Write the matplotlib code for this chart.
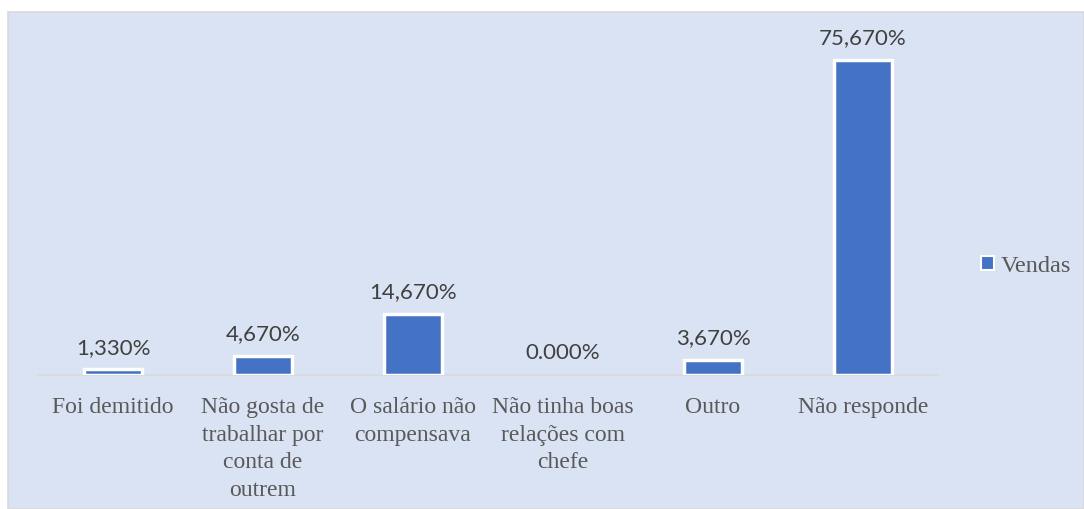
import matplotlib.pyplot as plt
import matplotlib.patches as patches
import numpy as np

# Data
categories = ["Foi demitido", "Não gosta de\ntrabalhar por\nconta de\noutrem",
              "O salário não\ncompensava", "Não tinha boas\nrelações com\nchefe",
              "Outro", "Não responde"]
values = [1.33, 4.67, 14.67, 0.0, 3.67, 75.67]
value_labels = ["1,330%", "4,670%", "14,670%", "0.000%", "3,670%", "75,670%"]
series_name = "Vendas"

# Styles
COLORS = {
    'bar': '#4472C4',
    'panel': '#DAE3F3',
    'border': '#D9D9D9',
    'label': '#404040',
    'cat': '#595959',
}

fig = plt.figure(figsize=(10.84, 5.10), dpi=100)

# chart area background
panel = patches.Rectangle((8 / 1084, 0), 1 - 8 / 1084, 497 / 510, transform=fig.transFigure,
                          facecolor=COLORS['panel'], edgecolor=COLORS['border'], linewidth=1.2,
                          zorder=-10)
fig.patches.append(panel)

ax = fig.add_axes([38 / 1084, 134 / 510, 900 / 1084, 333 / 510])
ax.patch.set_visible(False)
ax.set_zorder(1)

x = np.arange(len(categories))
lws = [2.5 if v > 0 else 0 for v in values]
bars = ax.bar(x, values, width=0.39, color=COLORS['bar'], edgecolor='white',
              linewidth=lws, zorder=3, label=series_name)

for xi, v, lab in zip(x, values, value_labels):
    ax.annotate(lab, xy=(xi, v), xytext=(0, 9), textcoords='offset points',
                ha='center', va='bottom', fontsize=16, family='Lato', color=COLORS['label'])

ax.set_xlim(-0.5, len(categories) - 0.5)
ax.set_ylim(0, 80)
ax.set_xticks(x)
ax.set_xticklabels(categories, fontsize=17, family='Liberation Serif', color=COLORS['cat'],
                   linespacing=1.42, va='top')
ax.tick_params(axis='x', length=0, pad=15)
ax.set_yticks([])
for s in ['top', 'right', 'left']:
    ax.spines[s].set_visible(False)
ax.spines['bottom'].set_color(COLORS['border'])
ax.spines['bottom'].set_linewidth(1.2)
ax.spines['bottom'].set_zorder(2)

leg = fig.legend(handles=[patches.Patch(facecolor=COLORS['bar'], edgecolor='white', linewidth=1.5)],
                 labels=[series_name], loc='center left', bbox_to_anchor=(981 / 1084, 243 / 510),
                 frameon=False, borderpad=0, borderaxespad=0, handlelength=0.55,
                 handleheight=0.55, handletextpad=0.25,
                 prop={'family': 'Liberation Serif', 'size': 17.5})
for t in leg.get_texts():
    t.set_color(COLORS['cat'])

plt.savefig("out.png", dpi=100)
